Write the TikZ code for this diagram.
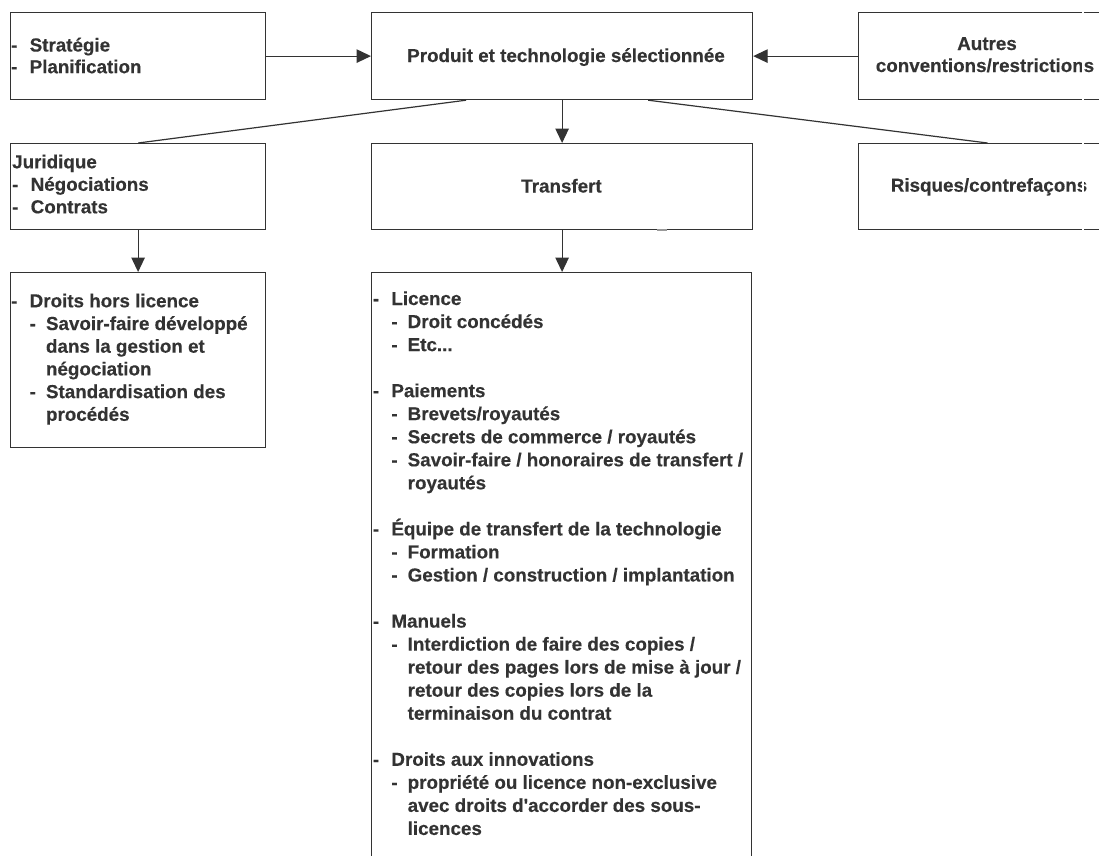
\documentclass[tikz,border=0pt]{standalone}
\usepackage{fontspec}
\setmainfont{Liberation Sans}[BoldFeatures={FakeBold=0.35}]
\usetikzlibrary{arrows.meta}
\definecolor{ink}{HTML}{333333}
\newcommand\fz{\fontsize{18.8}{23}\selectfont\bfseries}
\newcommand\ia[1]{\hbox{\makebox[18.5pt][l]{-}#1}}
\newcommand\ib[1]{\hbox{\hspace*{18.5pt}\makebox[16.3pt][l]{-}#1}}
\newcommand\ic[1]{\hbox{\hspace*{34.8pt}#1}}
\newcommand\iz[1]{\hbox{#1}}
\newcommand\blk[2]{\vtop{\baselineskip=#1pt\lineskiplimit=-30pt\lineskip=0pt #2}}
\tikzset{
  box/.style={draw=ink, line width=1.2pt, rectangle, inner sep=0pt, anchor=north west},
  txt/.style={inner sep=0pt, anchor=base west, text=ink, font=\fz},
  ctxt/.style={inner sep=0pt, anchor=base, text=ink, font=\fz},
  arr/.style={draw=ink, line width=1.2pt, -{Triangle[length=14.5pt,width=13.5pt]}},
  ln/.style={draw=ink, line width=1.2pt},
}
\begin{document}
\begin{tikzpicture}[x=1pt,y=1pt]
\useasboundingbox (0,0) rectangle (1099,-855);
\clip (0,0) rectangle (1099,-855);
\fill[white] (0,0) rectangle (1099,-855);
% boxes
\node[box, minimum width=255pt, minimum height=87pt] (A) at (10,-12) {};
\node[box, minimum width=381pt, minimum height=87pt] (P) at (371,-12) {};
\node[box, minimum width=258pt, minimum height=87pt] (R1) at (858,-12) {};
\node[box, minimum width=255pt, minimum height=86pt] (J) at (10,-143) {};
\node[box, minimum width=381pt, minimum height=86pt] (T) at (371,-143) {};
\node[box, minimum width=258pt, minimum height=86pt] (Ri) at (858,-143) {};
\node[box, minimum width=255pt, minimum height=175pt] (D) at (10,-272) {};
\node[box, minimum width=380pt, minimum height=620pt] (B) at (371,-272) {};
% texts
\node[txt] (At) at (11,-51.5) {\blk{21.7}{\ia{Stratégie}\ia{Planification}}};
\node[ctxt] (Pt) at (566,-62) {Produit et technologie sélectionnée};
\node[ctxt] (R1a) at (987,-50) {Autres};
\node[ctxt] (R1b) at (985,-72) {conventions/restrictions};
\node[txt] (Jt) at (12,-168.3) {\blk{22.5}{\iz{Juridique}\ia{Négociations}\ia{Contrats}}};
\node[ctxt] (Tt) at (561.5,-192.5) {Transfert};
\node[ctxt] (Rit) at (989,-191.7) {Risques/contrefaçons};
\node[txt] (Dt) at (11,-307.3) {\blk{22.7}{%
  \ia{Droits hors licence}
  \ib{Savoir-faire développé}
  \ic{dans la gestion et}
  \ic{négociation}
  \ib{Standardisation des}
  \ic{procédés}}};
\node[txt] (Bt) at (372.7,-305) {\blk{23.04}{%
  \ia{Licence}
  \ib{Droit concédés}
  \ib{Etc...}
  \hbox{}
  \ia{Paiements}
  \ib{Brevets/royautés}
  \ib{Secrets de commerce / royautés}
  \ib{Savoir-faire / honoraires de transfert /}
  \ic{royautés}
  \hbox{}
  \ia{Équipe de transfert de la technologie}
  \ib{Formation}
  \ib{Gestion / construction / implantation}
  \hbox{}
  \ia{Manuels}
  \ib{Interdiction de faire des copies /}
  \ic{retour des pages lors de mise à jour /}
  \ic{retour des copies lors de la}
  \ic{terminaison du contrat}
  \hbox{}
  \ia{Droits aux innovations}
  \ib{propriété ou licence non-exclusive}
  \ic{avec droits d\textquotesingle accorder des sous-}
  \ic{licences}}};
% connectors
\draw[arr] (A.east) -- (P.west);
\draw[arr] (R1.west) -- (P.east);
\draw[arr] (P.south) -- (T.north);
\draw[arr] (J.south) -- (D.north);
\draw[arr] (T.south) -- (T.south |- B.north);
\draw[ln] ([xshift=95pt]P.south west) -- (J.north);
\draw[ln] ([xshift=-105pt]P.south east) -- (Ri.north);
% small mark on Transfert bottom edge
\draw[gray!80, line width=1.6pt] ([xshift=286pt]T.south west) -- ([xshift=296pt]T.south west);
% white gap at the right edge
\fill[white] (1082.3,-5) rectangle (1084.3,-240);
\end{tikzpicture}
\end{document}
